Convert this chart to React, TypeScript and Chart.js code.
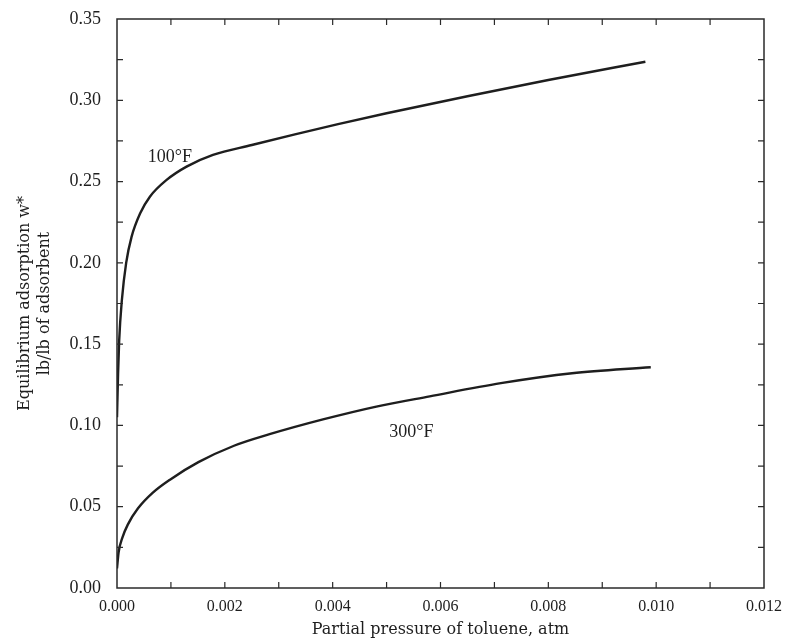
import React, { useEffect, useRef } from "react";
import { Chart, registerables } from "chart.js";

Chart.register(...registerables);

// Partial pressure of toluene (atm) and equilibrium adsorption (lb/lb)
const pressure100F = [0, 0.00002, 0.00004, 0.00009, 0.00017, 0.00027, 0.00043, 0.00061, 0.00092, 0.00129, 0.00178, 0.0025, 0.0033, 0.0041, 0.005, 0.0065, 0.008, 0.0098];
const adsorption100F = [0.105, 0.132, 0.152, 0.177, 0.2, 0.216, 0.2305, 0.2407, 0.251, 0.2592, 0.2664, 0.2725, 0.279, 0.2853, 0.292, 0.3025, 0.3125, 0.3237];

const pressure300F = [0, 0.00003, 0.0001, 0.0002, 0.00039, 0.00066, 0.00099, 0.00151, 0.00217, 0.00283, 0.00382, 0.00481, 0.0058, 0.00712, 0.00844, 0.0099];
const adsorption300F = [0.012, 0.022, 0.031, 0.039, 0.049, 0.0585, 0.0668, 0.0774, 0.0875, 0.0946, 0.1037, 0.1116, 0.1179, 0.126, 0.1321, 0.1358];

const seriesNames = ["100°F", "300°F"];
const labelAnchorX = [0.00098, 0.00546];
const labelAnchorY = [0.265, 0.096];

const xTickValues = [0, 0.002, 0.004, 0.006, 0.008, 0.01, 0.012];
const yTickValues = [0, 0.05, 0.1, 0.15, 0.2, 0.25, 0.3, 0.35];
const xMinorStep = 0.001;
const yMinorStep = 0.025;

const FONT = "'Liberation Serif', 'Times New Roman', serif";
const WIDE_FONT = "'DejaVu Serif', 'Liberation Serif', serif";
const INK = "#1e1e1e";

const framePlugin = {
  id: "frameAndTicks",
  afterDraw(chart: any) {
    const { ctx, chartArea } = chart;
    const xs = chart.scales.x;
    const ys = chart.scales.y;
    ctx.save();
    ctx.strokeStyle = "#2a2a2a";
    ctx.lineWidth = 1.5;
    ctx.strokeRect(chartArea.left, chartArea.top, chartArea.right - chartArea.left, chartArea.bottom - chartArea.top);
    ctx.lineWidth = 1.2;
    const tl = 6;
    const nx = Math.round((xs.max - xs.min) / xMinorStep);
    for (let i = 1; i < nx; i++) {
      const px = xs.getPixelForValue(xs.min + i * xMinorStep);
      ctx.beginPath();
      ctx.moveTo(px, chartArea.bottom);
      ctx.lineTo(px, chartArea.bottom - tl);
      ctx.moveTo(px, chartArea.top);
      ctx.lineTo(px, chartArea.top + tl);
      ctx.stroke();
    }
    const ny = Math.round((ys.max - ys.min) / yMinorStep);
    for (let i = 1; i < ny; i++) {
      const py = ys.getPixelForValue(ys.min + i * yMinorStep);
      ctx.beginPath();
      ctx.moveTo(chartArea.left, py);
      ctx.lineTo(chartArea.left + tl, py);
      ctx.moveTo(chartArea.right, py);
      ctx.lineTo(chartArea.right - tl, py);
      ctx.stroke();
    }
    ctx.fillStyle = INK;
    ctx.font = `18px ${FONT}`;
    ctx.textAlign = "center";
    ctx.textBaseline = "middle";
    seriesNames.forEach((name, i) => {
      ctx.fillText(name, xs.getPixelForValue(labelAnchorX[i]), ys.getPixelForValue(labelAnchorY[i]));
    });
    ctx.restore();
  },
};

export default function App() {
  const canvasRef = useRef<HTMLCanvasElement | null>(null);

  useEffect(() => {
    if (!canvasRef.current) return;
    const chart = new Chart(canvasRef.current, {
      type: "line",
      data: {
        datasets: [
          {
            label: seriesNames[0],
            data: pressure100F.map((x, i) => ({ x, y: adsorption100F[i] })),
            borderColor: INK,
            borderWidth: 2.4,
            pointRadius: 0,
            cubicInterpolationMode: "monotone",
            fill: false,
          },
          {
            label: seriesNames[1],
            data: pressure300F.map((x, i) => ({ x, y: adsorption300F[i] })),
            borderColor: INK,
            borderWidth: 2.4,
            pointRadius: 0,
            cubicInterpolationMode: "monotone",
            fill: false,
          },
        ],
      },
      options: {
        animation: false,
        responsive: true,
        maintainAspectRatio: false,
        layout: { padding: { left: 0, right: 28, top: 19, bottom: 0 } },
        plugins: { legend: { display: false }, tooltip: { enabled: false } },
        scales: {
          x: {
            type: "linear",
            min: 0,
            max: 0.012,
            afterBuildTicks: (scale: any) => {
              scale.ticks = xTickValues.map((v) => ({ value: v }));
            },
            afterFit: (scale: any) => {
              scale.height = 51;
            },
            grid: { display: false, drawTicks: false },
            border: { display: false },
            ticks: {
              padding: 9,
              maxRotation: 0,
              autoSkip: false,
              color: INK,
              font: { family: FONT, size: 16 },
              callback: (v: any) => Number(v).toFixed(3),
            },
            title: {
              display: true,
              text: "Partial pressure of toluene, atm",
              color: INK,
              font: { family: WIDE_FONT, size: 16, lineHeight: 1.2 },
              padding: { top: 0, bottom: 0 },
            },
          },
          y: {
            type: "linear",
            min: 0,
            max: 0.35,
            afterBuildTicks: (scale: any) => {
              scale.ticks = yTickValues.map((v) => ({ value: v }));
            },
            afterFit: (scale: any) => {
              scale.width = 117;
              scale.paddingTop = 0;
              scale.paddingBottom = 0;
            },
            grid: { display: false, drawTicks: false },
            border: { display: false },
            ticks: {
              padding: 16,
              autoSkip: false,
              color: INK,
              font: { family: FONT, size: 18 },
              callback: (v: any) => Number(v).toFixed(2),
            },
            title: {
              display: true,
              text: ["Equilibrium adsorption w*", "lb/lb of adsorbent"],
              color: INK,
              font: { family: WIDE_FONT, size: 16, lineHeight: 1.3 },
              padding: { top: 14, bottom: 0 },
            },
          },
        },
      },
      plugins: [framePlugin],
    });
    return () => chart.destroy();
  }, []);

  return (
    <div style={{ position: "absolute", left: 0, top: 0, width: 792, height: 639, background: "#fff" }}>
      <canvas ref={canvasRef} />
    </div>
  );
}
